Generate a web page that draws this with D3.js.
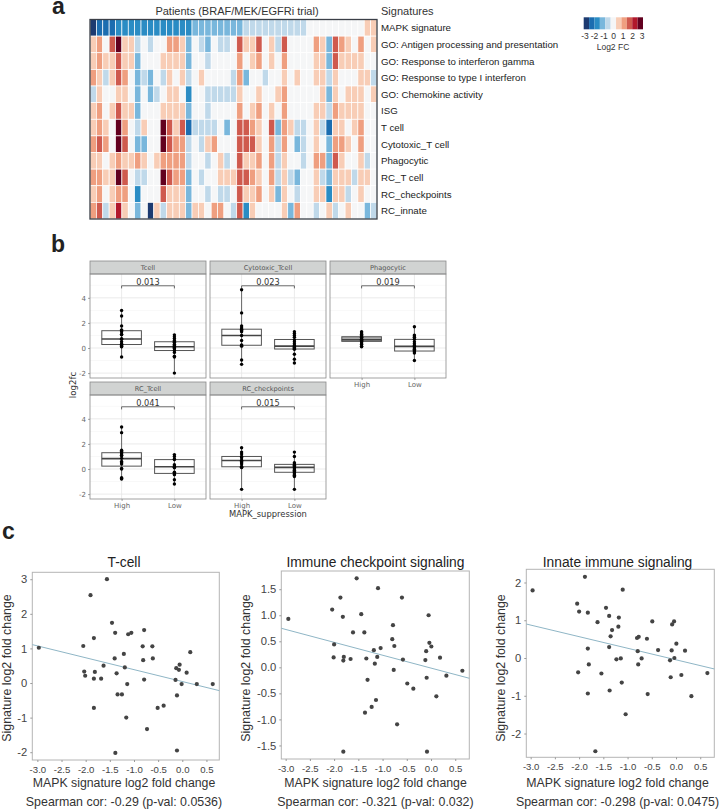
<!DOCTYPE html>
<html>
<head>
<meta charset="utf-8">
<script src="https://cdn.jsdelivr.net/npm/d3@7"></script>
<style>
  html, body { margin: 0; padding: 0; background: #fff; }
  svg { display: block; }
  text { font-family: "Liberation Sans", Arial, sans-serif; }
  .gg text { font-family: "DejaVu Sans", sans-serif; }
</style>
</head>
<body>
<script>
// panel a: signatures, values are colour-bin levels from -5 to 5 (one bin = ~0.55 log2 FC)
const signatures = ['MAPK signature', 'GO: Antigen processing and presentation', 'GO: Response to interferon gamma',
  'GO: Response to type I interferon', 'GO: Chemokine activity', 'ISG', 'T cell', 'Cytotoxic_T cell', 'Phagocytic',
  'RC_T cell', 'RC_checkpoints', 'RC_innate'];
const mapkRow = [-5,-4,-4,-4,-3,-3,-3,-3,-3,-3,-3,-3,-3,-3,-3,-3,-2,-2,-2,-2,-2,-2,-2,-2,-1,-1,-1,-1,-1,-1,-1,-1,-1,-1,0,0,0,0,0,0,0,0,0,1,1];
const antigenRow = [1,2,0,3,5,1,1,-1,0,-1,0,0,2,2,1,-2,0,-1,-2,0,-1,-1,0,3,1,1,3,0,1,-1,3,0,0,0,0,2,1,-2,3,2,1,0,2,0,1];
const gammaRow = [1,2,1,1,3,1,1,-2,0,0,0,1,1,1,1,-2,0,0,-1,0,0,0,0,2,0,1,2,0,1,0,2,0,0,0,0,1,1,-2,3,1,1,1,1,0,0];
const typeOneRow = [2,1,-1,1,3,2,0,-2,-1,-2,0,-1,1,0,1,-1,0,1,0,0,0,0,-1,2,-2,0,0,-1,0,0,1,0,1,0,0,1,1,-1,1,0,0,0,1,1,-1];
const chemokineRow = [-1,1,0,0,1,1,0,-2,0,-2,-1,0,1,1,0,-3,0,0,-1,-1,-1,-1,-1,1,0,0,1,0,0,1,2,0,0,0,0,0,1,-2,1,0,1,1,1,0,1];
const isgRow = [1,2,0,1,3,1,1,-2,0,0,0,1,1,1,1,-2,0,0,-1,0,0,0,0,2,0,1,2,0,1,0,2,0,0,0,0,1,1,-1,2,1,1,1,1,0,0];
const tCellRow = [1,2,1,0,5,2,0,-1,1,0,0,5,3,1,3,-4,-1,-1,-1,-1,0,-2,0,3,3,2,1,0,3,-2,2,1,-1,-1,0,1,-1,-4,1,1,0,1,2,0,0];
const cytotoxicRow = [2,3,2,0,5,3,0,-2,-2,0,0,5,3,2,2,-1,0,-1,1,2,0,0,0,3,3,3,1,0,2,-1,2,0,-2,-1,0,1,0,-2,2,2,1,0,2,0,0];
const phagocyticRow = [1,1,0,1,2,1,1,2,1,0,1,2,2,2,2,-1,0,0,-1,0,1,-1,0,3,1,1,2,0,2,-1,1,0,0,-1,0,2,2,-2,3,1,0,0,1,-1,0];
const rcTCellRow = [2,2,1,1,5,3,0,-1,-1,0,0,5,3,2,2,-2,0,-1,0,0,1,1,1,3,3,2,1,0,2,-1,1,-1,-2,0,0,1,-1,-2,1,1,1,-1,1,1,0];
const rcCheckRow = [1,2,0,1,2,2,0,-3,0,0,0,3,1,1,1,-2,0,0,-1,0,-1,-1,0,3,1,1,2,0,1,-2,1,0,-1,0,0,1,1,-3,1,1,-1,0,1,0,0];
const rcInnateRow = [2,3,-1,1,4,1,0,-2,0,-5,1,-1,1,1,1,-2,1,1,0,2,2,0,-1,3,-3,1,0,0,0,0,1,-2,2,0,0,-1,0,1,-1,0,1,0,0,-2,-1];
const heatRows = [mapkRow, antigenRow, gammaRow, typeOneRow, chemokineRow, isgRow, tCellRow, cytotoxicRow, phagocyticRow, rcTCellRow, rcCheckRow, rcInnateRow];
const legendTicks = [-3, -2, -1, 0, 1, 2, 3];

// panel b: boxplots
const boxNames = ['Tcell', 'Cytotoxic_Tcell', 'Phagocytic', 'RC_Tcell', 'RC_checkpoints'];
const boxPvals = ['0.013', '0.023', '0.019', '0.041', '0.015'];
const boxGroups = ['High', 'Low'];
const boxTicks = [-2, 0, 2, 4];
// [q1, median, q3] per group
const tcellBox = [[0.28, 0.72, 1.38], [-0.2, 0.1, 0.5]];
const cytoBox = [[0.22, 1.0, 1.5], [-0.08, 0.15, 0.68]];
const phagoBox = [[0.53, 0.66, 0.9], [-0.24, 0.13, 0.69]];
const rcTcellBox = [[0.23, 0.83, 1.3], [-0.35, 0.18, 0.75]];
const rcCheckBox = [[0.18, 0.68, 1.0], [-0.26, 0.13, 0.37]];
const tcellPts = [[3.0,2.55,1.75,1.45,1.4,1.3,1.1,1.05,0.75,0.7,0.5,0.33,0.3,0.2,0.12,0.1,-0.72],
  [1.05,0.9,0.75,0.6,0.5,0.45,0.3,0.2,0.12,0.05,0,-0.05,-0.2,-0.35,-0.65,-0.72,-2.0]];
const cytoPts = [[4.65,2.8,1.75,1.6,1.5,1.4,1.3,1.0,0.6,0.25,0.2,0.15,-0.95,-1.3],
  [1.3,1.15,1.0,0.85,0.65,0.5,0.35,0.2,0.1,0.05,0,-0.05,-0.1,-0.5,-0.9,-1.2]];
const phagoPts = [[1.3,1.2,1.1,1.0,0.9,0.85,0.8,0.7,0.65,0.6,0.55,0.5,0.4,0.3,0.15,0.1],
  [1.7,1.03,0.95,0.85,0.7,0.5,0.35,0.2,0.1,0,-0.1,-0.2,-0.3,-0.4,-1.0]];
const rcTcellPts = [[3.35,2.9,1.5,1.4,1.3,1.2,1.1,1.05,0.85,0.6,0.5,0.4,0.05,0,-0.7,-0.75,-0.8],
  [1.15,1.0,0.8,0.75,0.35,0.25,0.15,0.1,-0.25,-0.3,-0.4,-0.45,-0.85,-1.2]];
const rcCheckPts = [[1.7,1.35,1.2,1.0,0.9,0.7,0.6,0.5,0.4,0.2,0.15,0.12,-1.62],
  [1.35,1.0,0.5,0.4,0.3,0.2,0.1,0,-0.1,-0.2,-0.3,-0.4,-0.5,-0.6,-1.62]];
const boxStats = [tcellBox, cytoBox, phagoBox, rcTcellBox, rcCheckBox];
const boxPoints = [tcellPts, cytoPts, phagoPts, rcTcellPts, rcCheckPts];

// panel c: scatter points as [MAPK log2 FC, signature log2 FC]
const tcellScatter = [[-2.97,1.02],[-1.56,3.0],[-1.9,2.54],[-1.455,1.74],[-1.39,1.45],[-1.83,1.3],[-2.05,1.07],[-1.12,1.41],[-1.055,1.45],[-0.79,1.53],[-0.82,1.06],[-0.62,1.06],[-1.4,0.71],[-1.21,0.84],[-0.81,0.66],[-0.61,0.71],[0.165,0.89],[-0.055,0.53],[-0.125,0.43],[-0.07,0.38],[0.09,0.3],[-1.63,0.5],[-1.19,0.45],[-2.03,0.33],[-2.01,0.21],[-1.81,0.32],[-1.83,0.125],[-1.68,0.125],[-1.36,0.28],[-0.79,0.1],[-0.14,0.09],[-1.14,-0.03],[-0.014,-0.03],[0.3,-0.03],[0.63,-0.03],[-1.34,-0.33],[-1.25,-0.33],[-0.11,-0.36],[-0.386,-0.655],[-0.51,-0.72],[-1.83,-0.72],[-1.16,-1.0],[-0.73,-1.33],[-0.11,-1.95],[-1.386,-2.02]];
const checkpointScatter = [[-2.945,0.93],[-1.535,1.71],[-1.094,1.52],[-1.87,1.34],[-0.6,1.34],[-2.04,1.11],[-1.44,1.02],[-1.82,0.97],[-0.05,1.0],[-0.785,0.81],[-1.61,0.67],[-1.376,0.67],[-0.8,0.54],[-0.034,0.47],[0.007,0.4],[-0.757,0.41],[-1.04,0.37],[-2.0,0.44],[-1.18,0.33],[-0.1,0.31],[-1.11,0.2],[-2.01,0.19],[-1.8,0.2],[-1.81,0.13],[-1.66,0.16],[-1.335,0.17],[-0.58,0.15],[-0.117,0.14],[0.186,0.185],[-1.16,0.07],[-0.77,-0.05],[0.647,-0.065],[0.317,-0.16],[-0.09,-0.2],[-1.31,-0.24],[-0.49,-0.31],[-0.365,-0.41],[0.11,-0.557],[-1.136,-0.627],[-1.225,-0.76],[-1.363,-0.87],[-0.7,-1.094],[-1.81,-1.62],[-0.083,-1.62]];
const innateScatter = [[-2.96,1.79],[-1.88,2.15],[-1.1,1.81],[-2.04,1.44],[-2.0,1.23],[-1.82,1.2],[-1.445,1.33],[-1.38,1.115],[-1.18,1.07],[-1.62,0.95],[-0.49,0.97],[-0.04,0.97],[-0.08,0.89],[-1.19,0.83],[-1.32,0.74],[-1.35,0.575],[-0.805,0.53],[-0.77,0.56],[-0.6,0.51],[0.007,0.38],[-1.38,0.29],[-1.82,0.25],[-0.79,0.18],[-0.37,0.21],[-0.09,0.2],[0.186,0.195],[-1.23,-0.035],[-1.14,-0.01],[-0.71,-0.01],[-0.124,-0.06],[-0.034,0],[-1.8,-0.17],[-0.78,-0.17],[-2.02,-0.38],[-1.54,-0.41],[0.647,-0.4],[0.11,-0.45],[-0.11,-0.51],[-1.12,-0.65],[-1.37,-0.86],[-1.82,-0.94],[-0.585,-0.956],[0.317,-1.01],[-1.04,-1.49],[-1.665,-2.47]];
const tcellFit = [[-3.105, 1.11], [0.766, -0.22]];
const checkpointFit = [[-3.09, 0.75], [0.79, -0.21]];
const innateFit = [[-3.09, 0.9], [0.79, -0.29]];
const scatterTitles = ['T-cell', 'Immune checkpoint signaling', 'Innate immune signaling'];
const scatterStats = ['Spearman cor: -0.29 (p-val: 0.0536)', 'Spearman cor: -0.321 (p-val: 0.032)', 'Spearman cor: -0.298 (p-val: 0.0475)'];
const xTicks = [-3, -2.5, -2, -1.5, -1, -0.5, 0, 0.5];

// plain hyphen on the negative tick labels, like the figure
d3.formatDefaultLocale({decimal: '.', thousands: ',', grouping: [3], currency: ['$', ''], minus: '-'});

const svg = d3.select('body').append('svg').attr('width', 720).attr('height', 809);

const panelLabel = (t, x, y) => svg.append('text').attr('x', x).attr('y', y).text(t)
  .attr('font-size', 23).attr('font-weight', 700).attr('fill', '#222');
panelLabel('a', 52, 14);
panelLabel('b', 51, 252);
panelLabel('c', 2, 539);

// ---- a: heatmap
const binColors = ['#1c3a70', '#1b6db0', '#2a8cc4', '#79b7dc', '#c0d9ea', '#f5f6f7', '#f8cdb6', '#ef9f80', '#cf5a4e', '#b2182b', '#62001f'];
const color = d3.scaleOrdinal().domain(d3.range(-5, 6)).range(binColors);
const heatX = d3.scaleBand().domain(d3.range(45)).range([90, 377]);
const heatY = d3.scaleBand().domain(signatures).range([19.5, 219]);
const heat = svg.append('g');
heat.selectAll('g').data(heatRows).join('g')
  .attr('transform', (d, i) => `translate(0,${heatY(signatures[i])})`)
  .selectAll('rect').data(d => d).join('rect')
  .attr('x', (d, i) => heatX(i))
  .attr('width', heatX.bandwidth())
  .attr('height', heatY.bandwidth())
  .attr('fill', d => color(d))
  .attr('stroke', '#fff').attr('stroke-width', 0.7);
heat.append('rect').attr('x', 90).attr('y', 19.5).attr('width', 287).attr('height', 199.5)
  .attr('fill', 'none').attr('stroke', '#3a3f47').attr('stroke-width', 1.3);
heat.selectAll('text.row').data(signatures).join('text').attr('class', 'row')
  .attr('x', 381).attr('y', d => heatY(d) + heatY.bandwidth() / 2 + 3.5)
  .attr('font-size', 9.7).attr('fill', '#222').text(d => d);
svg.append('text').attr('x', 237).attr('y', 15).attr('text-anchor', 'middle')
  .attr('font-size', 11).attr('fill', '#333').text('Patients (BRAF/MEK/EGFRi trial)');
svg.append('text').attr('x', 381).attr('y', 15).attr('font-size', 11).attr('fill', '#333').text('Signatures');

// legend
const legX = d3.scaleBand().domain(d3.range(-5, 6)).range([583.7, 643]);
svg.append('g').selectAll('rect').data(d3.range(-5, 6)).join('rect')
  .attr('x', d => legX(d)).attr('y', 17.3).attr('width', legX.bandwidth()).attr('height', 12)
  .attr('fill', d => color(d));
const legTick = d3.scaleLinear().domain([-3, 3]).range([585, 642]);
svg.append('g').selectAll('text').data(legendTicks).join('text')
  .attr('x', d => legTick(d)).attr('y', 38.7).attr('text-anchor', 'middle')
  .attr('font-size', 8.5).attr('fill', '#333').text(d => d);
svg.append('text').attr('x', 613).attr('y', 49.5).attr('text-anchor', 'middle')
  .attr('font-size', 8.5).attr('fill', '#333').text('Log2 FC');

// ---- b: facets
const gg = svg.append('g').attr('class', 'gg');
const facetPos = [[90, 274], [210, 274], [330, 274], [90, 395], [210, 395]];
const facetW = 116, facetH = 104;

boxNames.forEach((name, i) => {
  const [px, py] = facetPos[i];
  const g = gg.append('g');
  const x = d3.scalePoint().domain(boxGroups).range([px + 31.6, px + facetW - 31.6]);
  const y = d3.scaleLinear().domain([-2.39, 5.9]).range([py + facetH, py]);

  // grid
  g.selectAll('line.minor').data([-1, 1, 3, 5]).join('line').attr('class', 'minor')
    .attr('x1', px).attr('x2', px + facetW).attr('y1', d => y(d)).attr('y2', d => y(d))
    .attr('stroke', '#f0f0f0').attr('stroke-width', 0.5);
  g.selectAll('line.major').data(boxTicks).join('line').attr('class', 'major')
    .attr('x1', px).attr('x2', px + facetW).attr('y1', d => y(d)).attr('y2', d => y(d))
    .attr('stroke', '#e6e6e6').attr('stroke-width', 0.8);
  g.selectAll('line.vert').data(boxGroups).join('line').attr('class', 'vert')
    .attr('x1', d => x(d)).attr('x2', d => x(d)).attr('y1', py).attr('y2', py + facetH)
    .attr('stroke', '#e6e6e6').attr('stroke-width', 0.8);

  // strip
  g.append('rect').attr('x', px).attr('y', py - 13).attr('width', facetW).attr('height', 13)
    .attr('fill', '#d1d3d2').attr('stroke', '#8a8a8a').attr('stroke-width', 0.8);
  g.append('text').attr('x', px + facetW / 2).attr('y', py - 4).attr('text-anchor', 'middle')
    .attr('font-size', 6.6).attr('fill', '#555').text(name);

  // boxes
  boxGroups.forEach((grp, k) => {
    const pts = boxPoints[i][k], st = boxStats[i][k], cx = x(grp);
    g.append('line').attr('x1', cx).attr('x2', cx).attr('y1', y(d3.min(pts))).attr('y2', y(d3.max(pts)))
      .attr('stroke', '#444').attr('stroke-width', 0.8);
    g.append('rect').attr('x', cx - 19.8).attr('width', 39.6).attr('y', y(st[2])).attr('height', y(st[0]) - y(st[2]))
      .attr('fill', i === 2 && k === 0 ? '#aaa' : 'none').attr('stroke', '#555').attr('stroke-width', 1);
    g.append('line').attr('x1', cx - 19.8).attr('x2', cx + 19.8).attr('y1', y(st[1])).attr('y2', y(st[1]))
      .attr('stroke', '#444').attr('stroke-width', 1.6);
    g.selectAll(null).data(pts).join('circle')
      .attr('cx', cx).attr('cy', d => y(d)).attr('r', 1.7).attr('fill', '#000');
  });

  // frame
  g.append('rect').attr('x', px).attr('y', py).attr('width', facetW).attr('height', facetH)
    .attr('fill', 'none').attr('stroke', '#8a8a8a').attr('stroke-width', 0.8);

  // p-value bracket
  const by = y(4.96);
  g.append('path').attr('d', `M${x('High')},${by + 2.6}V${by}H${x('Low')}V${by + 2.6}`)
    .attr('fill', 'none').attr('stroke', '#444').attr('stroke-width', 0.8);
  g.append('text').attr('x', (x('High') + x('Low')) / 2).attr('y', by - 0.8).attr('text-anchor', 'middle')
    .attr('font-size', 8.2).attr('fill', '#333').text(boxPvals[i]);

  // axes
  if (i === 0 || i === 3) {
    const ax = g.append('g').attr('transform', `translate(${px},0)`)
      .call(d3.axisLeft(y).tickValues(boxTicks).tickSize(2).tickFormat(d3.format('d')));
    ax.select('.domain').remove();
    ax.selectAll('text').attr('font-size', 7).attr('fill', '#666').attr('dx', 1);
    ax.selectAll('line').attr('stroke', '#666').attr('stroke-width', 0.6);
  }
  if (i >= 2) {
    const ax = g.append('g').attr('transform', `translate(0,${py + facetH})`)
      .call(d3.axisBottom(x).tickSize(2));
    ax.select('.domain').remove();
    ax.selectAll('text').attr('font-size', 7).attr('fill', '#666').attr('dy', '0.5em');
    ax.selectAll('line').attr('stroke', '#666').attr('stroke-width', 0.6);
  }
});
gg.append('text').attr('x', 268).attr('y', 517).attr('text-anchor', 'middle')
  .attr('font-size', 8.4).attr('fill', '#333').text('MAPK_suppression');
gg.append('text').attr('transform', 'translate(76,385) rotate(-90)').attr('text-anchor', 'middle')
  .attr('font-size', 8.6).attr('fill', '#333').text('log2fc');

// ---- c: scatter panels
const scatterPanels = [
  {pts: tcellScatter, fit: tcellFit, yDomain: [-2.225, 3.2], yTicks: [-2, -1, 0, 1, 2, 3], fmt: d3.format('d'),
    x: [32.3, 219.3], y: [760, 572.3], xDomain: [-3.105, 0.766], cx: 124, ylx: 11},
  {pts: checkpointScatter, fit: checkpointFit, yDomain: [-1.76, 1.85], yTicks: [-1.5, -1, -0.5, 0, 0.5, 1, 1.5], fmt: d3.format('.1f'),
    x: [281.3, 469.3], y: [759, 571], xDomain: [-3.09, 0.79], cx: 375.5, ylx: 250},
  {pts: innateScatter, fit: innateFit, yDomain: [-2.63, 2.35], yTicks: [-2, -1, 0, 1, 2], fmt: d3.format('d'),
    x: [526.3, 714.3], y: [757.3, 569.3], xDomain: [-3.09, 0.79], cx: 617.5, ylx: 505}
];

scatterPanels.forEach((p, i) => {
  const g = svg.append('g');
  const x = d3.scaleLinear().domain(p.xDomain).range(p.x);
  const y = d3.scaleLinear().domain(p.yDomain).range(p.y);
  g.append('rect').attr('x', p.x[0]).attr('y', p.y[1]).attr('width', p.x[1] - p.x[0]).attr('height', p.y[0] - p.y[1])
    .attr('fill', 'none').attr('stroke', '#b4b4b4').attr('stroke-width', 1);

  const ax = g.append('g').attr('transform', `translate(0,${p.y[0]})`)
    .call(d3.axisBottom(x).tickValues(xTicks).tickSize(2).tickFormat(d3.format('.1f')));
  ax.select('.domain').remove();
  ax.selectAll('text').attr('font-size', 9.6).attr('fill', '#444').attr('dy', '0.8em');
  ax.selectAll('line').attr('stroke', '#999');

  const ay = g.append('g').attr('transform', `translate(${p.x[0]},0)`)
    .call(d3.axisLeft(y).tickValues(p.yTicks).tickSize(2).tickFormat(p.fmt));
  ay.select('.domain').remove();
  ay.selectAll('text').attr('font-size', 11.2).attr('fill', '#444');
  ay.selectAll('line').attr('stroke', '#999');

  g.append('line').attr('x1', x(p.fit[0][0])).attr('y1', y(p.fit[0][1]))
    .attr('x2', x(p.fit[1][0])).attr('y2', y(p.fit[1][1]))
    .attr('stroke', '#8fb6c6').attr('stroke-width', 1);
  g.selectAll('circle').data(p.pts).join('circle')
    .attr('cx', d => x(d[0])).attr('cy', d => y(d[1])).attr('r', 2.1).attr('fill', '#444');

  g.append('text').attr('x', p.cx).attr('y', 566.5).attr('text-anchor', 'middle')
    .attr('font-size', 13.8).attr('fill', '#222').text(scatterTitles[i]);
  g.append('text').attr('x', p.cx).attr('y', 787).attr('text-anchor', 'middle')
    .attr('font-size', 12.3).attr('fill', '#333').text('MAPK signature log2 fold change');
  g.append('text').attr('x', p.cx).attr('y', 806).attr('text-anchor', 'middle')
    .attr('font-size', 12.4).attr('fill', '#333').text(scatterStats[i]);
  g.append('text').attr('transform', `translate(${p.ylx},668) rotate(-90)`).attr('text-anchor', 'middle')
    .attr('font-size', 12.4).attr('fill', '#333').text('Signature log2 fold change');
});
</script>
</body>
</html>
